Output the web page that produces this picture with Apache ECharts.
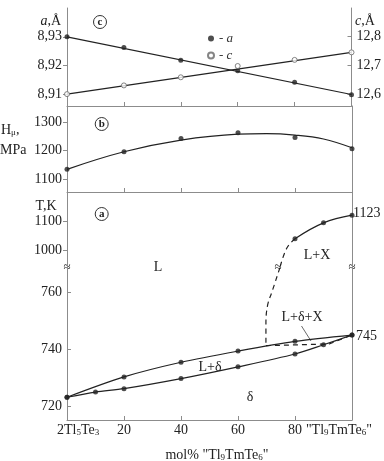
<!DOCTYPE html>
<html>
<head>
<meta charset="utf-8">
<script src="https://cdn.jsdelivr.net/npm/echarts@6/dist/echarts.min.js"></script>
<style>
html, body { margin: 0; padding: 0; background: #fff; }
#chart { width: 384px; height: 461px; }
</style>
</head>
<body>
<div id="chart"></div>
<script>
// composition axis, mol% "Tl9TmTe6"
const xPct = [0, 20, 40, 60, 80, 100];
const xTickLabels = ['2Tl5Te3', '20', '40', '60', '80', '"Tl9TmTe6"'];
const xTitle = 'mol% "Tl9TmTe6"';

// (c) lattice parameters a, c
const latA = [8.930, 8.9263, 8.9219, 8.9182, 8.9142, 8.9099];
const latC = [12.600, 12.630, 12.658, 12.697, 12.718, 12.744];
const fitX = [0, 100];
const fitA = [8.930, 8.910];
const fitC = [12.600, 12.744];
const aTicks = [8.91, 8.92, 8.93];
const cTicks = [12.6, 12.7, 12.8];

// (b) microhardness
const hardness = [1134, 1196, 1243, 1263, 1246, 1207];
const hardFitX = [0, 20, 40, 60, 70, 80, 90, 100];
const hardFit = [1134, 1196, 1237, 1258, 1260, 1255, 1241, 1210];
const hTicks = [1100, 1200, 1300];

// (a) phase diagram, broken T axis
const liqHighX = [80, 90, 100];
const liqHigh = [1040, 1096, 1123];
const dashHighX = [80, 77.1, 74.7];
const dashHigh = [1040, 1006, 937.5];
const dashLowX = [74.7, 71.9, 70.4, 69.8, 69.8];
const dashLow = [768.5, 760, 755.5, 749, 741.3];
const eutX = [69.8, 92, 100];
const eut = [741.3, 741.9, 745];
const liquidus = [723.3, 730.4, 735.5, 739.4, 742.8, 745];
const solidusX = [0, 10, 20, 40, 60, 80, 90, 100];
const solidus = [723.3, 725.1, 726.3, 729.8, 733.9, 738.4, 741.6, 745];
const tHighTicks = [1000, 1100];
const tLowTicks = [720, 740, 760];
const phaseLabels = ['L', 'L+X', 'L+δ+X', 'L+δ', 'δ'];

const font = 'Liberation Serif';
const ink = '#222';
const frame = '#8c8c8c';

function pairs(xs, ys) { return xs.map((x, i) => [x, ys[i]]); }

// digits right after a letter become subscripts
function chem(s) {
  return s.split(/(?<=[A-Za-zμ])(\d+)/).map((p, i) => p ? (i % 2 ? '{s|' + p + '}' : '{n|' + p + '}') : '').join('');
}
const rich = {
  n: { fontFamily: font, fontSize: 14, color: ink, lineHeight: 16, verticalAlign: 'bottom' },
  s: { fontFamily: font, fontSize: 9, color: ink, lineHeight: 8, verticalAlign: 'bottom' },
  i: { fontFamily: font, fontSize: 14, color: ink, fontStyle: 'italic', lineHeight: 16, verticalAlign: 'bottom' }
};

const grids = [
  { left: 67, width: 285, top: 8, height: 98 },
  { left: 67, width: 285, top: 106, height: 86 },
  { left: 67, width: 285, top: 192, height: 75.7 },
  { left: 67, width: 285, top: 267.7, height: 152.3 }
];

function xAx(i, extra) {
  return Object.assign({
    gridIndex: i, type: 'value', min: 0, max: 100, interval: 20,
    axisLine: { show: true, lineStyle: { color: frame } },
    axisTick: { show: true, inside: true, length: 4, lineStyle: { color: frame } },
    axisLabel: { show: false },
    splitLine: { show: false }
  }, extra);
}

function yAx(i, pos, min, max, ticks, fmt, inside) {
  const has = !!ticks;
  return {
    gridIndex: i, type: 'value', position: pos, min: min, max: max,
    axisLine: { show: true, onZero: false, lineStyle: { color: frame } },
    axisTick: { show: has, inside: !!inside, length: 4, customValues: ticks || [0], lineStyle: { color: frame } },
    axisLabel: { show: has, customValues: ticks || [0], formatter: fmt, margin: 5, fontFamily: font, fontSize: 14, color: ink },
    splitLine: { show: false }
  };
}

function curve(xi, yi, xs, ys, extra) {
  return Object.assign({
    type: 'line', xAxisIndex: xi, yAxisIndex: yi, data: pairs(xs, ys),
    symbol: 'none', lineStyle: { color: ink, width: 1.2 }, silent: true, z: 2
  }, extra);
}

function points(name, xi, yi, xs, ys, style) {
  return {
    name: name, type: 'scatter', xAxisIndex: xi, yAxisIndex: yi, data: pairs(xs, ys),
    symbol: 'circle', symbolSize: 5, itemStyle: style || { color: ink }, silent: true, z: 3
  };
}

function txt(x, y, text, align) {
  return {
    type: 'text', x: x, y: y, silent: true,
    style: { text: text, rich: rich, font: '14px "' + font + '"', fill: ink, align: align || 'center', verticalAlign: 'middle' }
  };
}

function brk(x, y) {
  return {
    type: 'text', x: x, y: y, silent: true,
    style: { text: '≈', font: '13px "' + font + '"', fill: ink, align: 'center', verticalAlign: 'middle' }
  };
}

function circled(x, y, letter) {
  return {
    type: 'group', x: x, y: y, silent: true,
    children: [
      { type: 'circle', shape: { cx: 0, cy: 0, r: 6.5 }, style: { fill: '#fff', stroke: '#333', lineWidth: 1 } },
      { type: 'text', style: { text: letter, font: 'bold 11px "' + font + '"', fill: ink, align: 'center', verticalAlign: 'middle' } }
    ]
  };
}

const dash = { color: ink, width: 1.2, type: [5, 4] };

const chart = echarts.init(document.getElementById('chart'));
chart.setOption({
  animation: false,
  backgroundColor: '#fff',
  grid: grids,
  legend: {
    data: ['a', 'c'], orient: 'vertical', left: 202, top: 27,
    itemWidth: 6, itemHeight: 6, itemGap: 4,
    formatter: n => '- ' + n,
    textStyle: { fontFamily: font, fontStyle: 'italic', fontSize: 13, color: '#333' }
  },
  xAxis: [
    xAx(0),
    xAx(1),
    xAx(2, { axisLine: { show: false }, axisTick: { show: false } }),
    xAx(3, {
      axisLabel: {
        show: true, margin: 3, fontFamily: font, fontSize: 14, color: ink,
        formatter: v => (v === 0 || v === 100) ? '' : xTickLabels[xPct.indexOf(v)]
      }
    })
  ],
  yAxis: [
    yAx(0, 'left', 8.906, 8.94, aTicks, v => v.toFixed(2).replace('.', ','), false),
    yAx(0, 'right', 12.559, 12.897, cTicks, v => v.toFixed(1).replace('.', ','), true),
    yAx(1, 'left', 1054, 1357.5, hTicks, v => String(v), false),
    yAx(1, 'right', 0, 1, null),
    yAx(2, 'left', 937.5, 1205, tHighTicks, v => String(v), false),
    yAx(2, 'right', 0, 1, null),
    yAx(3, 'left', 715.36, 768.5, tLowTicks, v => String(v), true),
    yAx(3, 'right', 0, 1, null)
  ],
  series: [
    // (c)
    curve(0, 0, fitX, fitA),
    curve(0, 1, fitX, fitC),
    points('a', 0, 0, xPct, latA),
    points('c', 0, 1, xPct, latC, { color: '#fff', borderColor: '#666', borderWidth: 1 }),
    // (b)
    curve(1, 2, hardFitX, hardFit, { smooth: 0.4 }),
    points('H', 1, 2, xPct, hardness),
    // (a) upper part
    curve(2, 4, liqHighX, liqHigh, { smooth: 0.4 }),
    curve(2, 4, dashHighX, dashHigh, { smooth: 0.4, lineStyle: dash }),
    points('Tup', 2, 4, liqHighX, liqHigh),
    // (a) lower part
    curve(3, 6, dashLowX, dashLow, { smooth: 0.4, lineStyle: dash }),
    curve(3, 6, eutX, eut, { lineStyle: dash }),
    curve(3, 6, xPct, liquidus, { smooth: 0.3 }),
    curve(3, 6, solidusX, solidus, { smooth: 0.3 }),
    points('liq', 3, 6, xPct, liquidus),
    points('sol', 3, 6, solidusX, solidus)
  ],
  graphic: [
    circled(100, 22, 'c'),
    circled(101.7, 124, 'b'),
    circled(101.7, 214, 'a'),
    txt(61, 20, '{i|a}{n|,Å}', 'right'),
    txt(355, 20, '{i|c}{n|,Å}', 'left'),
    txt(46, 205, '{n|T,K}'),
    txt(1, 129, '{n|H}{s|μ}{n|,}', 'left'),
    txt(0, 149, '{n|MPa}', 'left'),
    txt(158, 267, phaseLabels[0]),
    txt(317, 255, phaseLabels[1]),
    txt(302, 317, phaseLabels[2]),
    txt(210, 367, phaseLabels[3]),
    txt(250, 397, phaseLabels[4]),
    { type: 'line', silent: true, shape: { x1: 301.5, y1: 326, x2: 311, y2: 341 }, style: { stroke: '#444', lineWidth: 0.8 } },
    txt(356, 336, '745', 'left'),
    txt(353, 213, '1123', 'left'),
    brk(67, 268),
    brk(278, 268),
    brk(352, 268),
    txt(57, 429, chem(xTickLabels[0]), 'left'),
    txt(372, 429, chem(xTickLabels[5]), 'right'),
    txt(217, 454, chem(xTitle))
  ]
});
</script>
</body>
</html>
